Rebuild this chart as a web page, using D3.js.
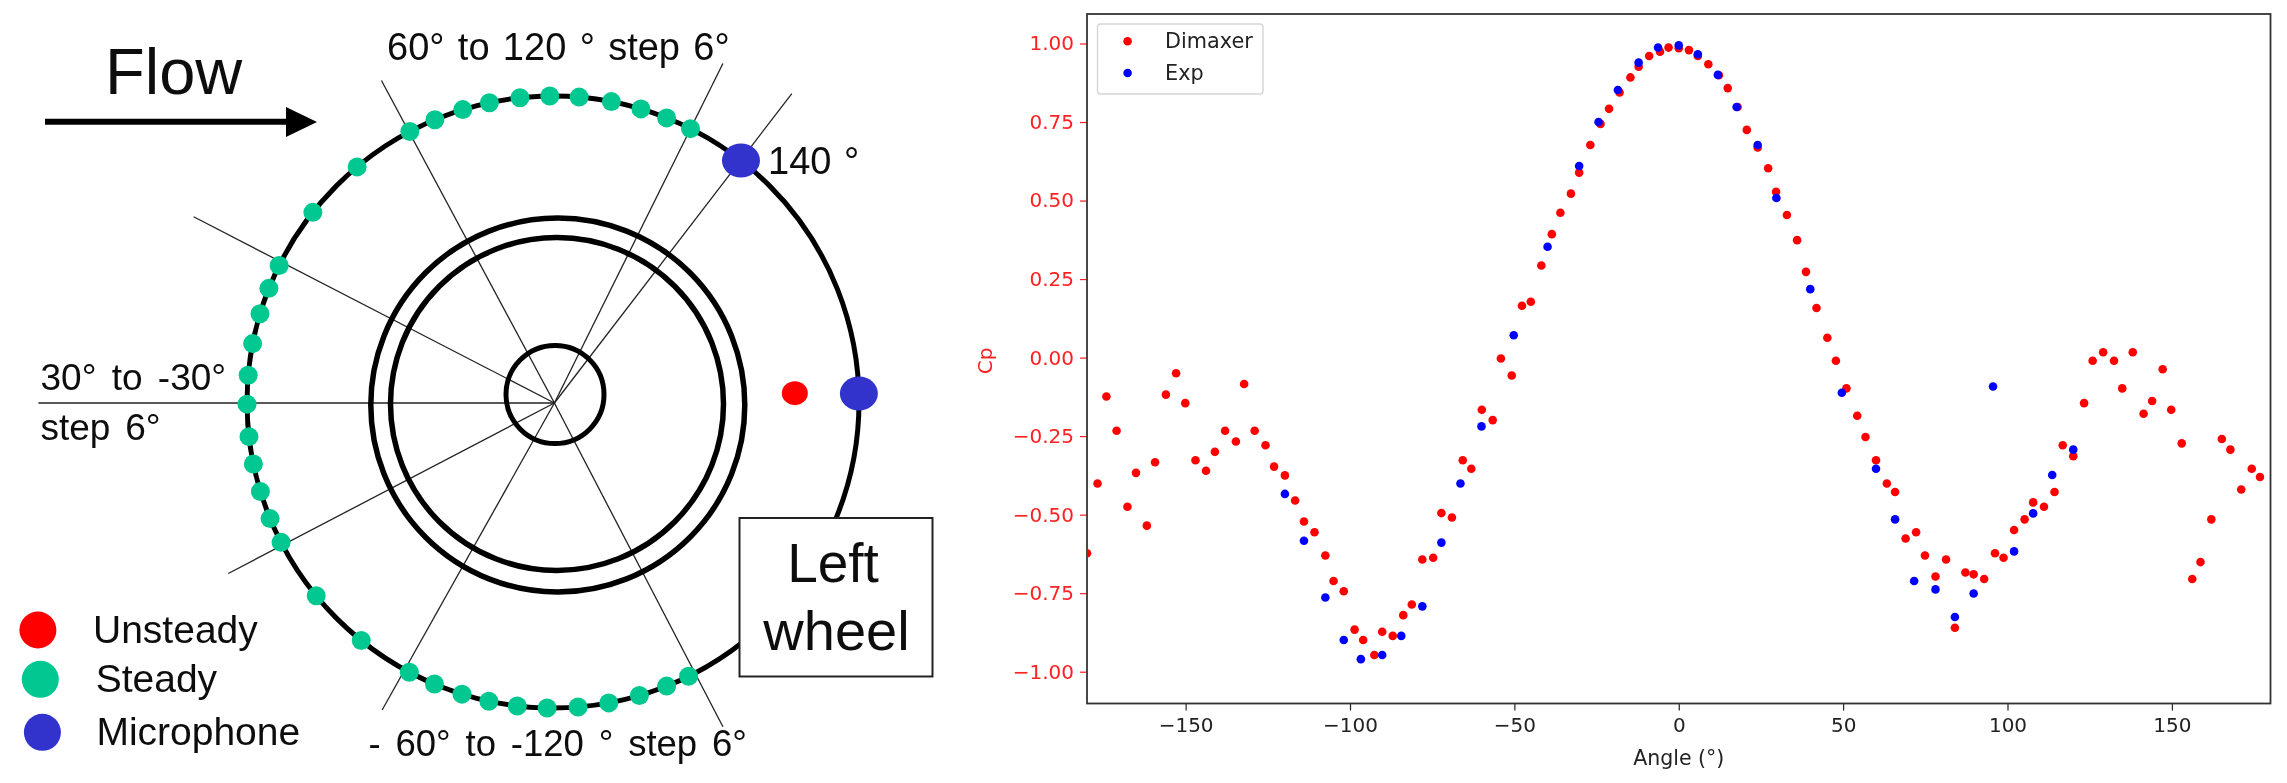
<!DOCTYPE html>
<html><head><meta charset="utf-8">
<script src="https://cdn.jsdelivr.net/npm/d3@7"></script>
<style>html,body{margin:0;padding:0;background:#fff}svg{display:block}</style>
</head><body><svg id="c" width="2287" height="783"></svg>
<script>
// ---- line chart data ----
const dimaxerAngle=[-180,-176.8,-174.1,-171,-167.7,-165.1,-161.8,-159.3,-156,-152.9,-150.1,-147,-143.8,-141.1,-138,-134.7,-132.2,-129,-125.7,-123.1,-119.8,-116.7,-114,-110.8,-107.5,-105,-101.9,-98.6,-96,-92.6,-90.2,-87,-83.8,-81.2,-78,-74.7,-72.2,-69,-65.7,-63.1,-59.9,-56.6,-54.1,-50.8,-47.7,-45,-41.8,-38.6,-36,-32.8,-30.3,-26.9,-23.8,-21.2,-18,-14.7,-12.2,-9,-5.7,-3.1,0,3.1,5.8,9,12.2,14.9,17.9,20.7,24,27.2,29.6,32.9,36,38.7,41.9,45.2,47.8,51,54.3,56.8,60,63.3,65.8,69,72.2,74.9,78.1,81.3,84,87.2,89.7,92.9,96.2,98.8,102,105.2,107.8,111.1,114.3,116.8,120,123.3,125.9,129.1,132.4,134.9,138.1,141.4,144,147.2,149.8,153,156.2,158.7,162,165.2,167.8,171.1,174.3,176.8];
const dimaxerCp=[-0.623,-0.401,-0.124,-0.233,-0.475,-0.367,-0.535,-0.333,-0.118,-0.05,-0.145,-0.327,-0.36,-0.3,-0.233,-0.267,-0.084,-0.233,-0.279,-0.347,-0.375,-0.455,-0.522,-0.556,-0.63,-0.711,-0.744,-0.866,-0.899,-0.947,-0.873,-0.886,-0.82,-0.786,-0.643,-0.637,-0.495,-0.509,-0.327,-0.354,-0.166,-0.199,-0.003,-0.057,0.165,0.178,0.293,0.393,0.461,0.522,0.589,0.677,0.744,0.792,0.844,0.892,0.926,0.96,0.974,0.987,0.985,0.979,0.96,0.934,0.899,0.858,0.798,0.725,0.669,0.603,0.528,0.454,0.374,0.273,0.158,0.063,-0.01,-0.098,-0.185,-0.253,-0.327,-0.401,-0.428,-0.576,-0.556,-0.63,-0.697,-0.643,-0.86,-0.684,-0.69,-0.705,-0.623,-0.637,-0.549,-0.515,-0.461,-0.475,-0.428,-0.279,-0.314,-0.145,-0.01,0.017,-0.01,-0.098,0.017,-0.179,-0.138,-0.037,-0.166,-0.273,-0.705,-0.651,-0.515,-0.259,-0.293,-0.42,-0.354,-0.38];
const expAngle=[-119.8,-114,-107.5,-101.9,-96.7,-90.2,-84.4,-78,-72.2,-66.4,-60,-50.2,-39.9,-30.3,-24.4,-18.5,-12.2,-6.3,0,5.8,11.9,17.6,24,29.7,40,49.6,60,65.8,71.6,78.1,84,89.7,95.6,102,107.8,113.6,120];
const expCp=[-0.434,-0.583,-0.764,-0.899,-0.96,-0.947,-0.886,-0.792,-0.589,-0.401,-0.219,0.071,0.353,0.61,0.75,0.852,0.939,0.987,0.994,0.966,0.9,0.798,0.677,0.508,0.218,-0.112,-0.354,-0.515,-0.711,-0.738,-0.826,-0.751,-0.092,-0.617,-0.496,-0.374,-0.293];
const xTicks=[-150,-100,-50,0,50,100,150];
const yTicks=[-1,-0.75,-0.5,-0.25,0,0.25,0.5,0.75,1];
const seriesNames=["Dimaxer","Exp"];
const seriesColors=["#ff0000","#0000ff"];

// ---- wheel diagram data (angles in degrees, counter-clockwise from +x) ----
const steadyAngles=[117.9,112.7,107.15,102,96.2,90.6,85.1,79,73.3,68.2,63.3,141.7,129.8,153.5,158.2,163.25,169,175,180.4,186.5,191.7,197,202.4,207.3,219.3,231.2,242,247.2,252.7,257.9,263.3,268.9,274.7,280.5,286.4,291.8,296.3];
const microphoneAngles=[52.1,1.6];
const unsteadyAngles=[2.1];
const spokeAngles=[118.2,297.5,152.7,180,207.6,240.7,63.6,52.5];
const spokeLengths=[366,365,406,516,368,352,379,390];
const legendNames=["Unsteady","Steady","Microphone"];
const legendColors=["#ff0000","#00c890","#3333cc"];

const svg=d3.select("#c");
const defs=svg.append("defs");
const blur=defs.append("filter").attr("id","soft").attr("x","-2%").attr("y","-2%").attr("width","104%").attr("height","104%");
blur.append("feGaussianBlur").attr("stdDeviation",0.6);
defs.append("clipPath").attr("id","plot").append("rect").attr("x",1087).attr("y",14).attr("width",1183.5).attr("height",689.5);

// ========== Left: wheel diagram ==========
const sans='"Liberation Sans",Arial,sans-serif';
const L=svg.append("g").attr("filter","url(#soft)").attr("font-family",sans).attr("fill","#111");
const C=[553,402];
const pt=(deg,r)=>[C[0]+r*Math.cos(deg*Math.PI/180),C[1]-r*Math.sin(deg*Math.PI/180)];
const hub=[554.4,403];
L.append("g").selectAll("line").data(spokeAngles).join("line")
  .attr("x1",hub[0]).attr("y1",hub[1])
  .attr("x2",(d,i)=>hub[0]+spokeLengths[i]*Math.cos(d*Math.PI/180))
  .attr("y2",(d,i)=>hub[1]-spokeLengths[i]*Math.sin(d*Math.PI/180))
  .attr("stroke","#222").attr("stroke-width",1.3);
const rings=[{x:553,y:402,r:306,w:5},{x:557.8,y:405,r:187,w:5.5},{x:557,y:404,r:166.5,w:5.5},{x:555,y:394.5,r:49,w:5}];
L.append("g").selectAll("circle").data(rings).join("circle")
  .attr("cx",d=>d.x).attr("cy",d=>d.y).attr("r",d=>d.r)
  .attr("fill","none").attr("stroke","#000").attr("stroke-width",d=>d.w);
L.append("g").selectAll("circle").data(steadyAngles).join("circle")
  .attr("cx",d=>pt(d,306)[0]).attr("cy",d=>pt(d,306)[1]).attr("r",9.5).attr("fill",legendColors[1]);
L.append("g").selectAll("ellipse").data(microphoneAngles).join("ellipse")
  .attr("cx",d=>pt(d,306)[0]).attr("cy",d=>pt(d,306)[1]).attr("rx",19).attr("ry",17).attr("fill",legendColors[2]);
L.append("g").selectAll("ellipse").data(unsteadyAngles).join("ellipse")
  .attr("cx",d=>pt(d,242)[0]).attr("cy",d=>pt(d,242)[1]).attr("rx",13).attr("ry",12).attr("fill",legendColors[0]);
// flow arrow
L.append("line").attr("x1",45).attr("x2",288).attr("y1",121.7).attr("y2",121.7).attr("stroke","#000").attr("stroke-width",6);
L.append("path").attr("d","M286,107L317,122L286,137Z").attr("fill","#000");
// box
L.append("rect").attr("x",739.5).attr("y",518).attr("width",193).attr("height",158.5).attr("fill","#fff").attr("stroke","#222").attr("stroke-width",2);
const labels=[
 {t:"Flow",x:105,y:94,s:65,w:0},
 {t:"60° to 120 ° step 6°",x:387,y:60,s:38,w:2.8},
 {t:"140 °",x:768,y:174,s:38,w:2},
 {t:"30° to -30°",x:40.5,y:390,s:37,w:5},
 {t:"step 6°",x:40.5,y:440,s:37,w:4.5},
 {t:"- 60° to -120 ° step 6°",x:368.5,y:756,s:36.5,w:4.7},
 {t:"Left",x:833,y:581.7,s:55,w:0,a:"middle"},
 {t:"wheel",x:836.5,y:650,s:56,w:0,a:"middle"}
];
L.append("g").selectAll("text").data(labels).join("text")
  .attr("x",d=>d.x).attr("y",d=>d.y).attr("font-size",d=>d.s).attr("word-spacing",d=>d.w)
  .attr("text-anchor",d=>d.a||"start").text(d=>d.t);
const lg=L.append("g").selectAll("g").data(legendNames).join("g");
const lgDotX=[37.9,40.3,42.4],lgY=[630,679.3,732.3],lgTextX=[93,95.7,96.4],lgBase=[643,691.7,745];
lg.append("circle").attr("cx",(d,i)=>lgDotX[i]).attr("cy",(d,i)=>lgY[i]).attr("r",18.5).attr("fill",(d,i)=>legendColors[i]);
lg.append("text").attr("x",(d,i)=>lgTextX[i]).attr("y",(d,i)=>lgBase[i]).attr("font-size",39).text(d=>d);

// ========== Right: scatter chart ==========
const x=d3.scaleLinear().domain([-180,180]).range([1087,2270.5]);
const y=d3.scaleLinear().domain([-1,1]).range([671.7,43.5]);
const R=svg.append("g").attr("filter","url(#soft)");
const font='"DejaVu Sans",sans-serif';
const fs=20;
const xa=R.append("g").attr("transform","translate(0,703.5)")
  .call(d3.axisBottom(x).tickValues(xTicks).tickSize(7).tickPadding(7).tickFormat(d3.format("d")));
xa.selectAll("text").attr("font-family",font).attr("font-size",fs).attr("fill","#222");
xa.selectAll("line").attr("stroke","#222").attr("stroke-width",1.2);
xa.select(".domain").remove();
const ya=R.append("g").attr("transform","translate(1087,0)")
  .call(d3.axisLeft(y).tickValues(yTicks).tickSize(7).tickPadding(6).tickFormat(d3.format(".2f")));
ya.selectAll("text").attr("font-family",font).attr("font-size",fs).attr("fill","#ff2020");
ya.selectAll("line").attr("stroke","#ff2020").attr("stroke-width",1.2);
ya.select(".domain").remove();
R.append("rect").attr("x",1087).attr("y",14).attr("width",1183.5).attr("height",689.5).attr("fill","none").attr("stroke","#333").attr("stroke-width",1.8);
const pts=R.append("g").attr("clip-path","url(#plot)");
pts.append("g").selectAll("circle").data(dimaxerAngle).join("circle")
  .attr("cx",d=>x(d)).attr("cy",(d,i)=>y(dimaxerCp[i])).attr("r",4.3).attr("fill",seriesColors[0]);
pts.append("g").selectAll("circle").data(expAngle).join("circle")
  .attr("cx",d=>x(d)).attr("cy",(d,i)=>y(expCp[i])).attr("r",4.3).attr("fill",seriesColors[1]);
R.append("text").attr("x",x(0)).attr("y",765).attr("text-anchor","middle").attr("font-family",font).attr("font-size",20.5).attr("fill","#222").text("Angle (°)");
R.append("text").attr("transform","translate(992,361) rotate(-90)").attr("text-anchor","middle").attr("font-family",font).attr("font-size",fs).attr("fill","#ff2020").text("Cp");
// legend
R.append("rect").attr("x",1097.5).attr("y",24).attr("width",165.5).attr("height",70).attr("rx",3).attr("fill","#fff").attr("stroke","#d5d5d5").attr("stroke-width",1.4);
const sl=R.append("g").selectAll("g").data(seriesNames).join("g");
const slY=[41.3,73];
sl.append("circle").attr("cx",1127.6).attr("cy",(d,i)=>slY[i]).attr("r",4.3).attr("fill",(d,i)=>seriesColors[i]);
sl.append("text").attr("x",1165).attr("y",(d,i)=>slY[i]+7).attr("font-family",font).attr("font-size",20.8).attr("fill","#222").text(d=>d);
</script></body></html>
